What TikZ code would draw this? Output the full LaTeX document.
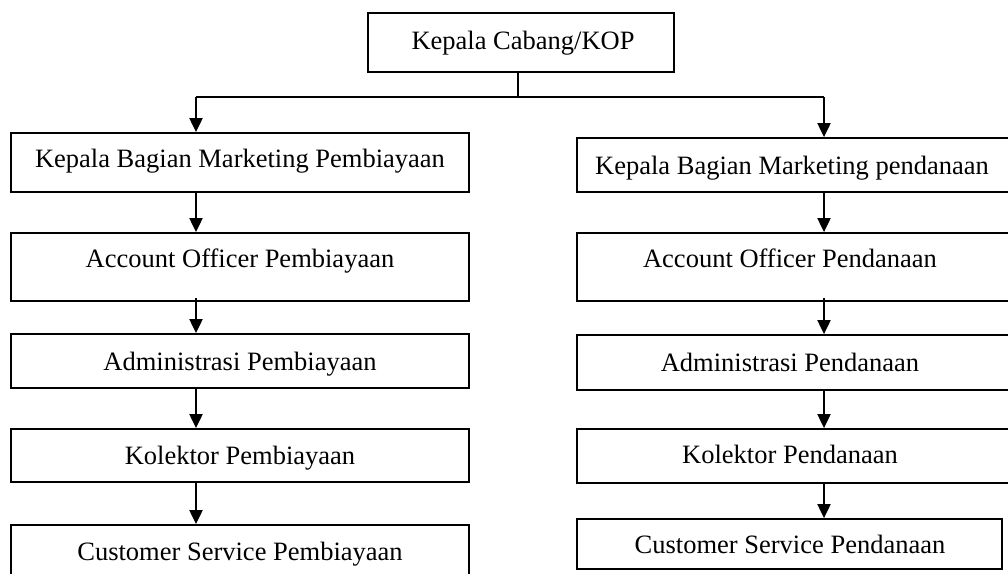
\documentclass[tikz,border=0pt]{standalone}
\usepackage{fontspec}
\setmainfont{Liberation Serif}
\usetikzlibrary{arrows.meta}
\begin{document}
\begin{tikzpicture}[x=1pt,y=-1pt,
  box/.style={draw, line width=1.8pt, inner sep=0pt, rectangle},
  lbl/.style={anchor=base, font=\fontsize{26.5}{30}\selectfont, inner sep=0pt},
  arr/.style={line width=2pt, -{Triangle[width=13pt,length=14pt]}},
  bar/.style={line width=2pt}
]
\useasboundingbox (0,0) rectangle (1008,573);
% boxes
\node[box, minimum width=306pt, minimum height=59pt] (kop) at (521,42.5) {};
\node[box, minimum width=458pt, minimum height=59pt] (kbmp) at (240,162.5) {};
\node[box, minimum width=458pt, minimum height=68pt] (aop) at (240,267) {};
\node[box, minimum width=458pt, minimum height=54pt] (adm) at (240,361) {};
\node[box, minimum width=458pt, minimum height=53pt] (kol) at (240,455.5) {};
\node[box, minimum width=458pt, minimum height=55pt] (cs) at (240,552.5) {};
\node[box, minimum width=435pt, minimum height=54pt] (kbmpd) at (794.5,165) {};
\node[box, minimum width=435pt, minimum height=68pt] (aopd) at (794.5,267) {};
\node[box, minimum width=435pt, minimum height=55pt] (admd) at (794.5,362.5) {};
\node[box, minimum width=435pt, minimum height=54pt] (kold) at (794.5,456) {};
\node[box, minimum width=425pt, minimum height=50pt] (csd) at (789.5,544) {};
% labels
\node[lbl] (tkop) at (523,49) {Kepala Cabang/KOP};
\node[lbl] (tkbmp) at (240,167) {Kepala Bagian Marketing Pembiayaan};
\node[lbl] (taop) at (240,267) {Account Officer Pembiayaan};
\node[lbl] (tadm) at (240,370) {Administrasi Pembiayaan};
\node[lbl] (tkol) at (240,464) {Kolektor Pembiayaan};
\node[lbl] (tcs) at (240,560) {Customer Service Pembiayaan};
\node[lbl] (tkbmpd) at (792,174) {Kepala Bagian Marketing pendanaan};
\node[lbl] (taopd) at (790,267) {Account Officer Pendanaan};
\node[lbl] (tadmd) at (790,371) {Administrasi Pendanaan};
\node[lbl] (tkold) at (790,463) {Kolektor Pendanaan};
\node[lbl] (tcsd) at (790,553) {Customer Service Pendanaan};
% connectors
\coordinate (lx) at (196,0);
\coordinate (rx) at (824,0);
\coordinate (j) at (518,97);
\draw[line width=1.3pt] (kop.south -| j) -- (j);
\draw[bar] (j -| lx) -- (j -| rx);
\draw[arr] (j -| lx) -- (kbmp.north -| lx);
\draw[arr] (j -| rx) -- (kbmpd.north -| rx);
\draw[arr] (kbmp.south -| lx) -- (aop.north -| lx);
\draw[arr] ([yshift=4pt]aop.south -| lx) -- (adm.north -| lx);
\draw[arr] (adm.south -| lx) -- (kol.north -| lx);
\draw[arr] (kol.south -| lx) -- (cs.north -| lx);
\draw[arr] (kbmpd.south -| rx) -- (aopd.north -| rx);
\draw[arr] ([yshift=4pt]aopd.south -| rx) -- (admd.north -| rx);
\draw[arr] (admd.south -| rx) -- (kold.north -| rx);
\draw[arr] (kold.south -| rx) -- (csd.north -| rx);
\end{tikzpicture}
\end{document}
